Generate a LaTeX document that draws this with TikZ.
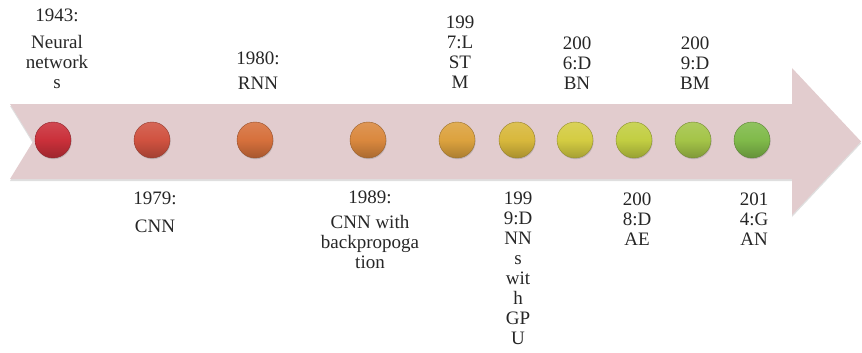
\documentclass[tikz,border=0pt]{standalone}
\usepackage{fontspec}
\setmainfont{Liberation Serif}
\usetikzlibrary{shadows}
\definecolor{band}{RGB}{226,204,206}
\definecolor{c1}{RGB}{202,48,58}
\definecolor{c2}{RGB}{208,82,64}
\definecolor{c3}{RGB}{214,112,60}
\definecolor{c4}{RGB}{218,136,62}
\definecolor{c5}{RGB}{220,162,62}
\definecolor{c6}{RGB}{216,184,60}
\definecolor{c7}{RGB}{212,204,66}
\definecolor{c8}{RGB}{194,206,66}
\definecolor{c9}{RGB}{164,196,72}
\definecolor{c10}{RGB}{128,186,74}
\tikzset{
  dot/.style={circle, minimum size=36pt, inner sep=0pt,
    top color=#1!88!white, bottom color=#1!78!black, middle color=#1,
    draw=#1!70!black, line width=0.4pt,
    drop shadow={shadow xshift=0.6pt, shadow yshift=-1.2pt, opacity=0.35}},
  lbl/.style={anchor=north, inner sep=0pt, align=center,
    font=\fontsize{19}{20}\selectfont, text=black!85}
}
\begin{document}
\begin{tikzpicture}[x=1pt,y=-1pt]
\useasboundingbox (0,0) rectangle (862,353);
% band arrow
\fill[band, drop shadow={shadow xshift=0pt, shadow yshift=-2pt, opacity=0.25}]
  (10,104) -- (792,104) -- (792,68) -- (861,141.5) -- (792,215)
  -- (792,179) -- (10,179) -- (33,141.5) -- cycle;
% dots
\node[dot=c1]  (d1)  at (53,140) {};
\node[dot=c2]  (d2)  at (152,140) {};
\node[dot=c3]  (d3)  at (255,140) {};
\node[dot=c4]  (d4)  at (368,140) {};
\node[dot=c5]  (d5)  at (457,140) {};
\node[dot=c6]  (d6)  at (517,140) {};
\node[dot=c7]  (d7)  at (575,140) {};
\node[dot=c8]  (d8)  at (634,140) {};
\node[dot=c9]  (d9)  at (693,140) {};
\node[dot=c10] (d10) at (752,140) {};
% top labels
\node[lbl] (t1) at (57,8.5) {1943:\\[7pt]Neural\\network\\s};
\node[lbl] (t3) at (258,51.5) {1980:\\[5pt]RNN};
\node[lbl] (t5) at (460,15.5) {199\\7:L\\ST\\M};
\node[lbl] (t7) at (577,36.5) {200\\6:D\\BN};
\node[lbl] (t9) at (695,36.5) {200\\9:D\\BM};
% bottom labels
\node[lbl] (b2) at (155,191.5) {1979:\\[8pt]CNN};
\node[lbl] (b4) at (370,190.5) {1989:\\[5pt]CNN with\\backpropoga\\tion};
\node[lbl] (b6) at (518,191.5) {199\\9:D\\NN\\s\\wit\\h\\GP\\U};
\node[lbl] (b8) at (637,192.5) {200\\8:D\\AE};
\node[lbl] (b10) at (754,192.5) {201\\4:G\\AN};
\end{tikzpicture}
\end{document}
